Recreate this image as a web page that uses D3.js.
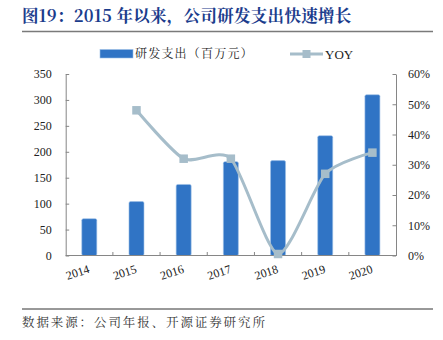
<!DOCTYPE html>
<html>
<head>
<meta charset="utf-8">
<script src="https://cdn.jsdelivr.net/npm/d3@7/dist/d3.min.js"></script>
<style>
  html, body { margin: 0; padding: 0; background: #fff; }
  svg { display: block; }
</style>
</head>
<body>
<svg id="chart" width="443" height="340"></svg>
<script>
// R&D spending (million yuan) and its year-over-year growth
const years = ["2014", "2015", "2016", "2017", "2018", "2019", "2020"];
const rdSpend = [71, 104, 137, 181, 183, 231, 310];
const yoyYears = ["2015", "2016", "2017", "2018", "2019", "2020"];
const yoyValues = [0.48, 0.32, 0.32, 0.005, 0.27, 0.34];
const leftTicks = [0, 50, 100, 150, 200, 250, 300, 350];
const rightTicks = [0, 0.1, 0.2, 0.3, 0.4, 0.5, 0.6];

const serif = "'Liberation Serif', 'Times New Roman', 'Noto Serif CJK SC', 'Noto Sans CJK SC', serif";
const cjk = "'Noto Serif CJK SC', 'Noto Sans CJK SC', serif";
const barColor = "#3074c5";
const lineColor = "#a6bdca";
const axisColor = "#868686";

const svg = d3.select("#chart");

// Title and rules
svg.append("text")
  .attr("x", 22).attr("y", 22)
  .attr("font-family", cjk)
  .attr("font-weight", "bold")
  .attr("font-size", 16.5)
  .attr("letter-spacing", 0.3)
  .attr("fill", "#1b3c8c")
  .text("图19：2015 年以来，公司研发支出快速增长");

svg.append("line")
  .attr("x1", 22).attr("x2", 433).attr("y1", 31.5).attr("y2", 31.5)
  .attr("stroke", "#7a7a7a").attr("stroke-width", 1.5);

svg.append("line")
  .attr("x1", 22).attr("x2", 433).attr("y1", 309).attr("y2", 309)
  .attr("stroke", "#333").attr("stroke-width", 1);

svg.append("text")
  .attr("x", 22).attr("y", 327)
  .attr("font-family", cjk)
  .attr("font-size", 12.5)
  .attr("letter-spacing", 1.9)
  .attr("fill", "#333")
  .text("数据来源：公司年报、开源证券研究所");

// Plot geometry
const plotLeft = 65.7, plotRight = 396, plotTop = 74, plotBottom = 255.5;

const x = d3.scaleBand().domain(years).range([plotLeft, plotRight]).paddingInner(0).paddingOuter(0);
const yL = d3.scaleLinear().domain([0, 350]).range([plotBottom, plotTop]);
const yR = d3.scaleLinear().domain([0, 0.6]).range([plotBottom, plotTop]);

// Bars
const barW = 15;
svg.append("g").selectAll("rect")
  .data(years.map((yr, i) => ({ yr, v: rdSpend[i] })))
  .join("rect")
  .attr("x", d => x(d.yr) + x.bandwidth() / 2 - barW / 2)
  .attr("y", d => yL(d.v))
  .attr("width", barW)
  .attr("height", d => yL(0) - yL(d.v))
  .attr("rx", 1.5)
  .attr("fill", barColor)
  .attr("stroke", "#9cbfe6")
  .attr("stroke-width", 0.6);

// Left axis
const gL = svg.append("g").attr("transform", `translate(${plotLeft},0)`);
gL.call(d3.axisLeft(yL).tickValues(leftTicks).tickSizeInner(-3.5).tickSizeOuter(0).tickPadding(14)
  .tickFormat(d3.format("d")));
gL.select(".domain").attr("stroke", axisColor);
gL.selectAll(".tick line").attr("stroke", axisColor);
gL.selectAll("text").attr("font-family", serif).attr("font-size", 12).attr("fill", "#222");

// Right axis
const gR = svg.append("g").attr("transform", `translate(${plotRight},0)`);
gR.call(d3.axisRight(yR).tickValues(rightTicks).tickSizeInner(-3.5).tickSizeOuter(0).tickPadding(12)
  .tickFormat(d3.format(".0%")));
gR.select(".domain").attr("stroke", axisColor);
gR.selectAll(".tick line").attr("stroke", axisColor);
gR.selectAll("text").attr("font-family", serif).attr("font-size", 12).attr("fill", "#222");

// Bottom axis: boundary ticks between categories, rotated year labels
svg.append("line")
  .attr("x1", plotLeft).attr("x2", plotRight).attr("y1", plotBottom).attr("y2", plotBottom)
  .attr("stroke", axisColor);
svg.append("g").selectAll("line")
  .data(years.slice(1))
  .join("line")
  .attr("x1", d => x(d)).attr("x2", d => x(d))
  .attr("y1", plotBottom).attr("y2", plotBottom - 3.5)
  .attr("stroke", axisColor);
svg.append("g").selectAll("text")
  .data(years)
  .join("text")
  .attr("transform", d => `translate(${x(d) + x.bandwidth() / 2 + 1},${plotBottom + 17}) rotate(-18)`)
  .attr("text-anchor", "end")
  .attr("font-family", serif)
  .attr("font-size", 12)
  .attr("fill", "#222")
  .text(d => d);

// YOY smoothed line with square markers
const pts = yoyYears.map((yr, i) => [x(yr) + x.bandwidth() / 2, yR(yoyValues[i])]);
svg.append("path")
  .attr("d", d3.line().curve(d3.curveCardinal.tension(0.3))(pts))
  .attr("fill", "none")
  .attr("stroke", lineColor)
  .attr("stroke-width", 3);
const mk = 8.5;
svg.append("g").selectAll("rect")
  .data(pts)
  .join("rect")
  .attr("x", d => d[0] - mk / 2).attr("y", d => d[1] - mk / 2)
  .attr("width", mk).attr("height", mk)
  .attr("fill", lineColor);

// Legend
const lg = svg.append("g");
lg.append("rect").attr("x", 100).attr("y", 49.5).attr("width", 33).attr("height", 8.5)
  .attr("fill", barColor).attr("stroke", "#9cbfe6").attr("stroke-width", 0.6);
lg.append("text").attr("x", 135).attr("y", 58)
  .attr("font-family", cjk).attr("font-size", 12).attr("letter-spacing", 1.2).attr("fill", "#222")
  .text("研发支出（百万元）");
lg.append("line").attr("x1", 290).attr("x2", 323).attr("y1", 54).attr("y2", 54)
  .attr("stroke", lineColor).attr("stroke-width", 3);
lg.append("rect").attr("x", 302.5).attr("y", 50).attr("width", 8).attr("height", 8).attr("fill", lineColor);
lg.append("text").attr("x", 325).attr("y", 58.5)
  .attr("font-family", serif).attr("font-size", 13).attr("fill", "#222")
  .text("YOY");
</script>
</body>
</html>
